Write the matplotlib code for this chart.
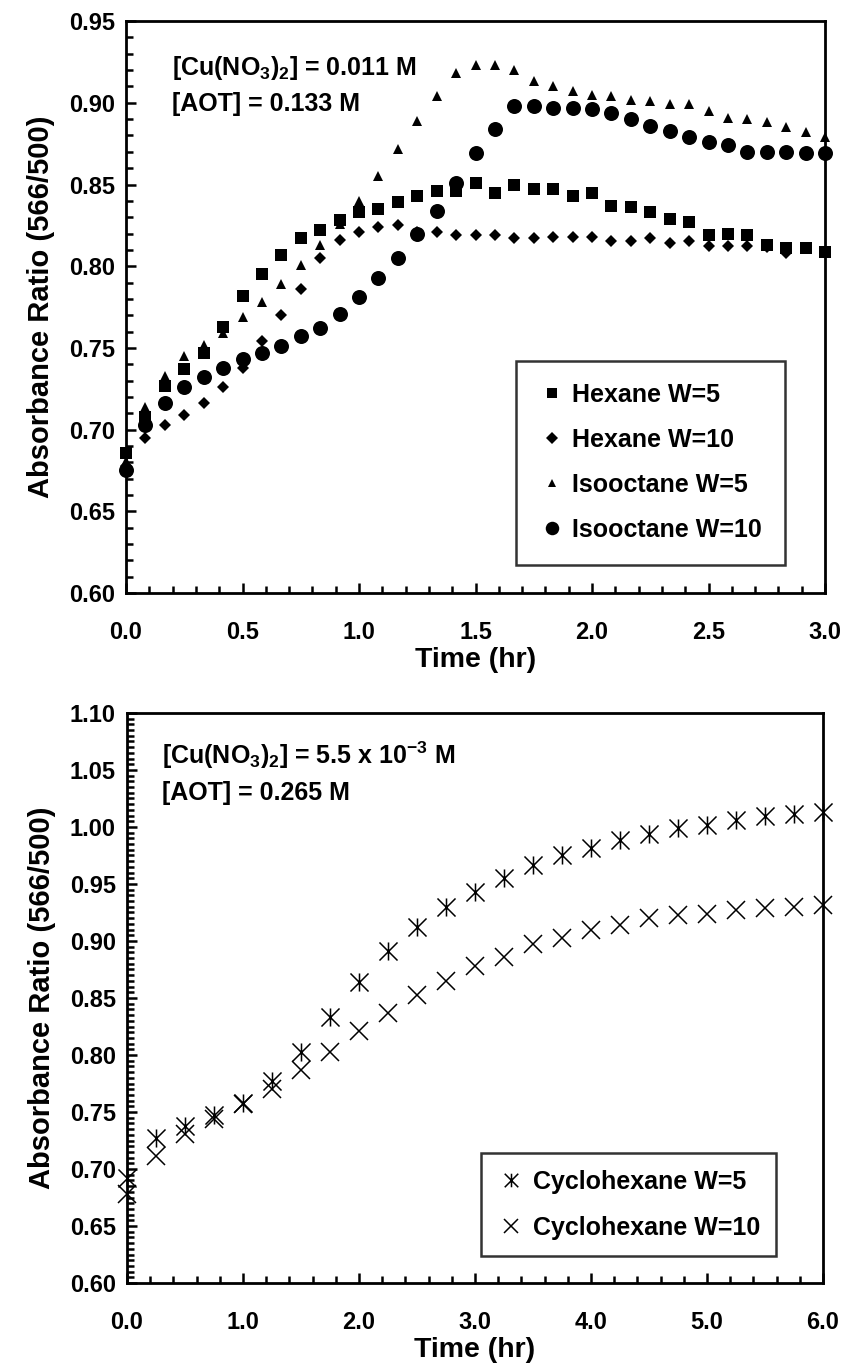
import matplotlib
matplotlib.use("Agg")
import matplotlib.pyplot as plt
from matplotlib.path import Path
from matplotlib.ticker import MultipleLocator, FormatStrFormatter

plt.rcParams['font.family'] = ['Liberation Sans', 'DejaVu Sans']
plt.rcParams['font.weight'] = 'bold'
plt.rcParams['mathtext.default'] = 'regular'

# top panel: sampled every 5 minutes
time_min = [0, 5, 10, 15, 20, 25, 30, 35, 40, 45, 50, 55, 60, 65, 70, 75, 80, 85, 90,
            95, 100, 105, 110, 115, 120, 125, 130, 135, 140, 145, 150, 155, 160, 165,
            170, 175, 180]
hexane_w5 = [0.686, 0.708, 0.727, 0.737, 0.747, 0.763, 0.782, 0.795, 0.807, 0.817,
             0.822, 0.828, 0.833, 0.835, 0.839, 0.843, 0.846, 0.846, 0.851, 0.845,
             0.850, 0.847, 0.847, 0.843, 0.845, 0.837, 0.836, 0.833, 0.829, 0.827,
             0.819, 0.820, 0.819, 0.813, 0.811, 0.811, 0.809]
hexane_w10 = [0.678, 0.695, 0.703, 0.709, 0.716, 0.726, 0.738, 0.754, 0.770, 0.786,
              0.805, 0.816, 0.821, 0.824, 0.825, 0.821, 0.821, 0.819, 0.819, 0.819,
              0.817, 0.817, 0.818, 0.818, 0.818, 0.8155, 0.8155, 0.817, 0.814, 0.8155,
              0.8125, 0.8125, 0.8125, 0.812, 0.808, 0.811, 0.809]
isooctane_w5 = [0.681, 0.714, 0.733, 0.745, 0.752, 0.759, 0.769, 0.778, 0.789, 0.801,
                0.813, 0.826, 0.840, 0.855, 0.872, 0.889, 0.904, 0.918, 0.923, 0.923,
                0.920, 0.9135, 0.910, 0.907, 0.905, 0.904, 0.902, 0.901, 0.899, 0.899,
                0.895, 0.891, 0.890, 0.888, 0.885, 0.882, 0.879]
isooctane_w10 = [0.675, 0.703, 0.716, 0.726, 0.732, 0.738, 0.743, 0.747, 0.751, 0.757,
                 0.762, 0.771, 0.781, 0.793, 0.805, 0.820, 0.834, 0.851, 0.869, 0.884,
                 0.898, 0.898, 0.897, 0.897, 0.896, 0.8935, 0.890, 0.886, 0.883, 0.879,
                 0.876, 0.874, 0.870, 0.870, 0.870, 0.869, 0.869]

# bottom panel: every 15 minutes
time2_min = [0, 15, 30, 45, 60, 75, 90, 105, 120, 135, 150, 165, 180, 195, 210, 225,
             240, 255, 270, 285, 300, 315, 330, 345, 360]
cyclo_w5 = [0.692, 0.727, 0.738, 0.747, 0.758, 0.777, 0.803, 0.833, 0.864, 0.891,
            0.912, 0.930, 0.943, 0.955, 0.967, 0.975, 0.982, 0.989, 0.994, 0.999,
            1.002, 1.006, 1.010, 1.011, 1.013]
cyclo_w10 = [0.678, 0.711, 0.731, 0.744, 0.757, 0.770, 0.787, 0.803, 0.821, 0.837,
             0.853, 0.865, 0.878, 0.886, 0.897, 0.903, 0.910, 0.914, 0.920, 0.923,
             0.924, 0.927, 0.929, 0.930, 0.932]

t1 = [m / 60 for m in time_min]
t2 = [m / 60 for m in time2_min]

# excel-style star: an x with a vertical bar
star = Path([(-1, -1), (1, 1), (-1, 1), (1, -1), (0, -1), (0, 1)],
            [Path.MOVETO, Path.LINETO, Path.MOVETO, Path.LINETO, Path.MOVETO, Path.LINETO])

fig = plt.figure(figsize=(8.47, 13.69), dpi=100)
ax1 = fig.add_axes([0.1488, 0.5668, 0.8253, 0.4178])
ax2 = fig.add_axes([0.150, 0.0628, 0.8217, 0.4164])


def style_axes(ax):
    for s in ax.spines.values():
        s.set_linewidth(2.0)
    ax.tick_params(which='both', direction='in', top=False, right=False, width=1.8,
                   labelsize=17, colors='black')
    ax.tick_params(which='major', length=7)
    ax.tick_params(which='minor', length=5)
    ax.tick_params(axis='x', pad=20)
    ax.tick_params(axis='y', pad=8)
    for lab in ax.get_xticklabels() + ax.get_yticklabels():
        lab.set_fontweight('bold')
    ax.set_xlabel('Time (hr)', fontsize=20.5, fontweight='bold', labelpad=2)
    ax.set_ylabel('Absorbance Ratio (566/500)', fontsize=21, fontweight='bold', labelpad=10)


kw = dict(linestyle='none', color='black', clip_on=False, zorder=5, markeredgewidth=0)
ax1.plot(t1, hexane_w5, marker='s', markersize=8.4, label='Hexane W=5', **kw)
ax1.plot(t1, hexane_w10, marker='D', markersize=6.4, label='Hexane W=10', **kw)
ax1.plot(t1, isooctane_w5, marker='^', markersize=6.8, label='Isooctane W=5', **kw)
ax1.plot(t1, isooctane_w10, marker='o', markersize=10.8, label='Isooctane W=10', **kw)

ax1.set_xlim(0, 3.0)
ax1.set_ylim(0.60, 0.95)
ax1.xaxis.set_major_locator(MultipleLocator(0.5))
ax1.xaxis.set_minor_locator(MultipleLocator(0.1))
ax1.yaxis.set_major_locator(MultipleLocator(0.05))
ax1.yaxis.set_minor_locator(MultipleLocator(0.01))
ax1.xaxis.set_major_formatter(FormatStrFormatter('%.1f'))
ax1.yaxis.set_major_formatter(FormatStrFormatter('%.2f'))
style_axes(ax1)

ax1.text(0.066, 0.918, '[Cu(NO$_{3}$)$_{2}$] = 0.011 M', transform=ax1.transAxes,
         fontsize=18, fontweight='bold', va='center')
ax1.text(0.066, 0.855, '[AOT] = 0.133 M', transform=ax1.transAxes,
         fontsize=18, fontweight='bold', va='center')

leg1 = ax1.legend(loc='center', bbox_to_anchor=(0.75, 0.228), frameon=True, fancybox=False,
                  edgecolor='black', prop={'size': 18, 'weight': 'bold'}, handlelength=1.1,
                  handletextpad=0.25, labelspacing=0.84, borderpad=0.9, numpoints=1,
                  markerscale=0.9)
leg1.get_frame().set_linewidth(1.8)

kw2 = dict(linestyle='none', color='black', clip_on=False, zorder=5, markeredgewidth=1.1,
           markerfacecolor='none')
ax2.plot(t2, cyclo_w5, marker=star, markersize=13, label='Cyclohexane W=5', **kw2)
ax2.plot(t2, cyclo_w10, marker='x', markersize=13, label='Cyclohexane W=10', **kw2)

ax2.set_xlim(0, 6.0)
ax2.set_ylim(0.60, 1.10)
ax2.xaxis.set_major_locator(MultipleLocator(1.0))
ax2.xaxis.set_minor_locator(MultipleLocator(0.2))
ax2.yaxis.set_major_locator(MultipleLocator(0.05))
ax2.yaxis.set_minor_locator(MultipleLocator(0.005))
ax2.xaxis.set_major_formatter(FormatStrFormatter('%.1f'))
ax2.yaxis.set_major_formatter(FormatStrFormatter('%.2f'))
style_axes(ax2)

ax2.text(0.05, 0.926, '[Cu(NO$_{3}$)$_{2}$] = 5.5 x 10$^{-3}$ M', transform=ax2.transAxes,
         fontsize=18, fontweight='bold', va='center')
ax2.text(0.05, 0.86, '[AOT] = 0.265 M', transform=ax2.transAxes,
         fontsize=18, fontweight='bold', va='center')

leg2 = ax2.legend(loc='center', bbox_to_anchor=(0.721, 0.137), frameon=True, fancybox=False,
                  edgecolor='black', prop={'size': 18, 'weight': 'bold'}, handlelength=1.1,
                  handletextpad=0.3, labelspacing=0.9, borderpad=0.65, numpoints=1,
                  markerscale=0.75)
leg2.get_frame().set_linewidth(1.8)

fig.savefig('out.png', dpi=100)
